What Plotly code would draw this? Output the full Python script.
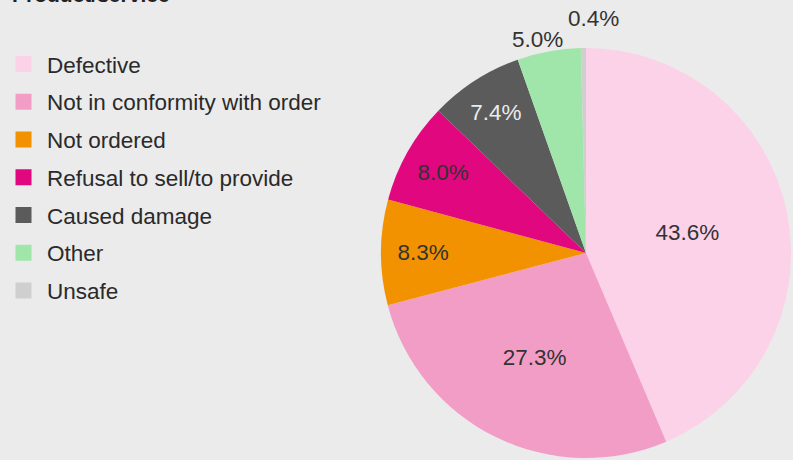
import math
import plotly.graph_objects as go

categories = ["Defective", "Not in conformity with order", "Not ordered",
              "Refusal to sell/to provide", "Caused damage", "Other", "Unsafe"]
shares = [43.6, 27.3, 8.3, 8.0, 7.4, 5.0, 0.4]
colors = ["#fcd2e8", "#f29dc6", "#f39200", "#e0077f", "#5b5b5b", "#a0e6aa", "#cfcfcf"]
inside_label = [True, True, True, True, True, False, False]
text_colors = ["#333333", "#333333", "#333333", "#333333", "#ebebeb", "#333333", "#333333"]
title_text = "Product/service"

FONT = "Liberation Sans, Arial, sans-serif"
W, H = 793, 460
CX, CY, R = 586, 253, 205          # pie centre / radius in pixels (layout)

fig = go.Figure()
fig.add_trace(go.Pie(
    labels=categories,
    values=shares,
    sort=False,
    direction="clockwise",
    rotation=0,
    marker=dict(colors=colors, line=dict(width=0)),
    texttemplate="%{value:.1f}%",
    textposition=["inside" if f else "none" for f in inside_label],
    insidetextorientation="horizontal",
    textfont=dict(family=FONT, size=22.5, color=text_colors),
    showlegend=False,
    hoverinfo="label+percent",
    domain=dict(x=[(CX - R) / W, (CX + R) / W], y=[1 - (CY + R) / H, 1 - (CY - R) / H]),
))

# outside labels for the small slices, placed at each slice's mid angle
total = sum(shares)
cum = 0.0
label_offsets = {5: (22, -7, -10), 6: (36, 11, -6)}   # radial gap px, xshift, yshift
for i, v in enumerate(shares):
    mid = (cum + v / 2) / total * 2 * math.pi
    cum += v
    if inside_label[i]:
        continue
    gap, xs, ys = label_offsets[i]
    rr = R + gap
    px = CX + rr * math.sin(mid)
    py = CY - rr * math.cos(mid)
    fig.add_annotation(
        text=f"{v:.1f}%", xref="paper", yref="paper",
        x=px / W, y=1 - py / H, xanchor="center", yanchor="middle",
        xshift=xs, yshift=ys, showarrow=False,
        font=dict(family=FONT, size=22.5, color=text_colors[i]),
    )

# legend entries (square swatches)
for name, col in zip(categories, colors):
    fig.add_trace(go.Scatter(
        x=[None], y=[None], mode="markers", name=name,
        legendgroup=name,
        marker=dict(symbol="square", size=19, color=col, line=dict(width=0)),
    ))

fig.add_annotation(
    text="<b>" + title_text + "</b>", xref="paper", yref="paper",
    x=0, y=1, xanchor="left", yanchor="bottom", yshift=-8.5, xshift=10,
    showarrow=False, font=dict(family=FONT, size=21, color="#222222"),
)

fig.update_layout(
    width=W, height=H,
    margin=dict(l=0, r=0, t=0, b=0),
    paper_bgcolor="#ebebeb",
    plot_bgcolor="#ebebeb",
    xaxis=dict(visible=False),
    yaxis=dict(visible=False),
    showlegend=True,
    legend=dict(
        x=0.0, y=0.907, xanchor="left", yanchor="top",
        bgcolor="rgba(0,0,0,0)",
        font=dict(family=FONT, size=22.5, color="#2a2a2a"),
        traceorder="grouped", tracegroupgap=5.5,
        itemsizing="trace", itemwidth=37,
    ),
)

fig.write_html("out.html", config={"displayModeBar": False},
               post_script="document.body.style.margin='0';")
